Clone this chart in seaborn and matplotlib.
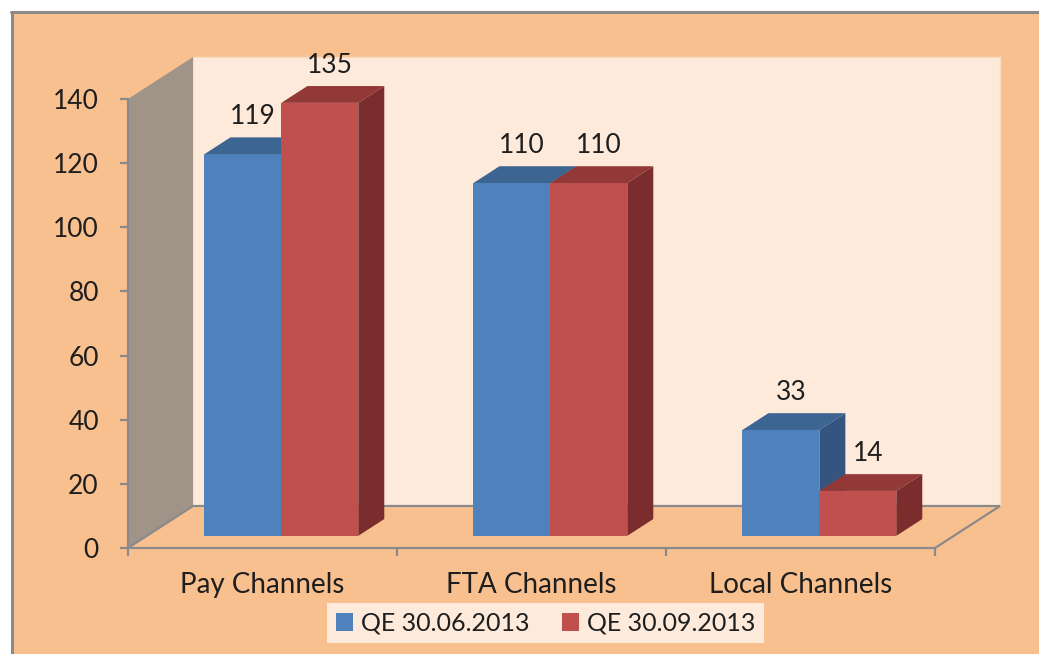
import numpy as np
import pandas as pd
import matplotlib
matplotlib.use("Agg")
import matplotlib.pyplot as plt
from matplotlib.patches import Polygon, Rectangle, Patch
from matplotlib.lines import Line2D
import seaborn as sns

# ---- data ----
categories = ["Pay Channels", "FTA Channels", "Local Channels"]
series_names = ["QE 30.06.2013", "QE 30.09.2013"]
q1_values = [119, 110, 33]
q2_values = [135, 110, 14]
y_ticks = [0, 20, 40, 60, 80, 100, 120, 140]

# ---- style ----
front_colors = ["#4F81BD", "#C0504D"]
top_colors = ["#3D6592", "#923937"]
side_colors = ["#335580", "#7B2D2E"]
panel_color = "#F9C08F"
wall_color = "#FDEADA"
side_wall_color = "#A09488"
line_gray = "#8A8A8A"
text_color = "#1E1E1E"

sns.set_theme(style="white")
plt.rcParams["font.family"] = ["Lato", "DejaVu Sans"]

W, H = 1039, 654
fig = plt.figure(figsize=(W / 100, H / 100), dpi=100)
fig.patch.set_facecolor("white")

# outer panel with a thin grey frame on the left and top
fig.add_artist(Rectangle((11 / W, 0), 1 - 11 / W, 1 - 11 / H, transform=fig.transFigure,
                         facecolor=panel_color, edgecolor="none", zorder=0))
fig.add_artist(Line2D([12 / W, 12 / W], [0, 1 - 12 / H], transform=fig.transFigure,
                      color=line_gray, lw=2.2, zorder=1))
fig.add_artist(Line2D([11 / W, 1], [1 - 12 / H, 1 - 12 / H], transform=fig.transFigure,
                      color=line_gray, lw=2.2, zorder=1))

# front plane of the 3-D box
ax = fig.add_axes([128 / W, (H - 548) / H, (935 - 128) / W, (548 - 99) / H])
ax.set_facecolor("none")

df = pd.DataFrame({
    "category": categories * 2,
    "series": [s for s in series_names for _ in categories],
    "value": q1_values + q2_values,
})
sns.barplot(data=df, x="category", y="value", hue="series", order=categories,
            hue_order=series_names, palette=front_colors, saturation=1,
            width=0.572, gap=0, errorbar=None, legend=False, ax=ax)

ax.set_xlim(-0.5, 2.5)
ax.set_ylim(0, 140)

# full depth of the box in data units, and the slab occupied by the bars
DX = 65 / (807 / 3)
DY = 42 / (449 / 140)
f0, fd = 0.29, 0.40

x_lo, x_hi = -0.5, 2.5
y_top = 140
# back wall, side wall and floor outline
ax.add_patch(Rectangle((x_lo + DX, DY), x_hi - x_lo, y_top, facecolor=wall_color,
                       edgecolor="#FCDCC0", lw=1, zorder=0.5, clip_on=False))
ax.add_patch(Polygon([(x_lo, 0), (x_lo, y_top), (x_lo + DX, y_top + DY), (x_lo + DX, DY)],
                     closed=True, facecolor=side_wall_color, edgecolor="none",
                     zorder=0.6, clip_on=False))
ax.plot([x_lo, x_lo + DX, x_hi + DX, x_hi], [0, DY, DY, 0], color=line_gray, lw=1.6,
        zorder=0.7, clip_on=False, solid_joinstyle="miter")

all_values = [q1_values, q2_values]
for i, container in enumerate(ax.containers):
    for bar, val in zip(container, all_values[i]):
        x0 = bar.get_x() + f0 * DX
        w = bar.get_width()
        y0 = f0 * DY
        bar.set_x(x0)
        bar.set_y(y0)
        bar.set_height(val)
        bar.set_edgecolor("none")
        bar.set_zorder(3 + i)
        x1 = x0 + w
        ddx, ddy = fd * DX, fd * DY
        top = y0 + val
        ax.add_patch(Polygon([(x0, top), (x1, top), (x1 + ddx, top + ddy), (x0 + ddx, top + ddy)],
                             closed=True, facecolor=top_colors[i], edgecolor="none",
                             zorder=3.1 + i, clip_on=False))
        ax.add_patch(Polygon([(x1, y0), (x1, top), (x1 + ddx, top + ddy), (x1 + ddx, y0 + ddy)],
                             closed=True, facecolor=side_colors[i], edgecolor="none",
                             zorder=3.2 + i, clip_on=False))
        ax.annotate(str(val), (x0 + w / 2 + ddx / 2, top + ddy), xytext=(-2, 15),
                    textcoords="offset points", ha="center", va="center",
                    fontsize=19, color=text_color, zorder=6, annotation_clip=False)

# axes styling
for side in ["top", "right"]:
    ax.spines[side].set_visible(False)
for side in ["left", "bottom"]:
    ax.spines[side].set_color(line_gray)
    ax.spines[side].set_linewidth(1.6)
    ax.spines[side].set_zorder(0.8)

ax.set_yticks(y_ticks)
ax.set_yticklabels([str(t) for t in y_ticks])
ax.set_xticks(range(len(categories)))
ax.set_xticklabels(categories)
ax.set_xticks([-0.5, 0.5, 1.5, 2.5], minor=True)
ax.tick_params(axis="y", which="major", left=True, length=6, width=1.6, color=line_gray,
               pad=15, labelsize=19, labelcolor=text_color)
ax.tick_params(axis="x", which="major", bottom=False, pad=11, labelsize=20,
               labelcolor=text_color)
ax.tick_params(axis="x", which="minor", bottom=True, length=6, width=1.6, color=line_gray)
ax.set_xlabel("")
ax.set_ylabel("")

handles = [Patch(facecolor=c, edgecolor="none") for c in front_colors]
leg = fig.legend(handles, series_names, loc="center", bbox_to_anchor=(545.5 / W, 1 - 623 / H),
                 ncol=2, frameon=True, facecolor=wall_color, edgecolor="none", framealpha=1,
                 fancybox=False, fontsize=18, handlelength=0.7, handleheight=0.7,
                 handletextpad=0.3, columnspacing=1.3, borderpad=0.35)
for t in leg.get_texts():
    t.set_color(text_color)

fig.savefig("out.png", dpi=100, facecolor=fig.get_facecolor())
